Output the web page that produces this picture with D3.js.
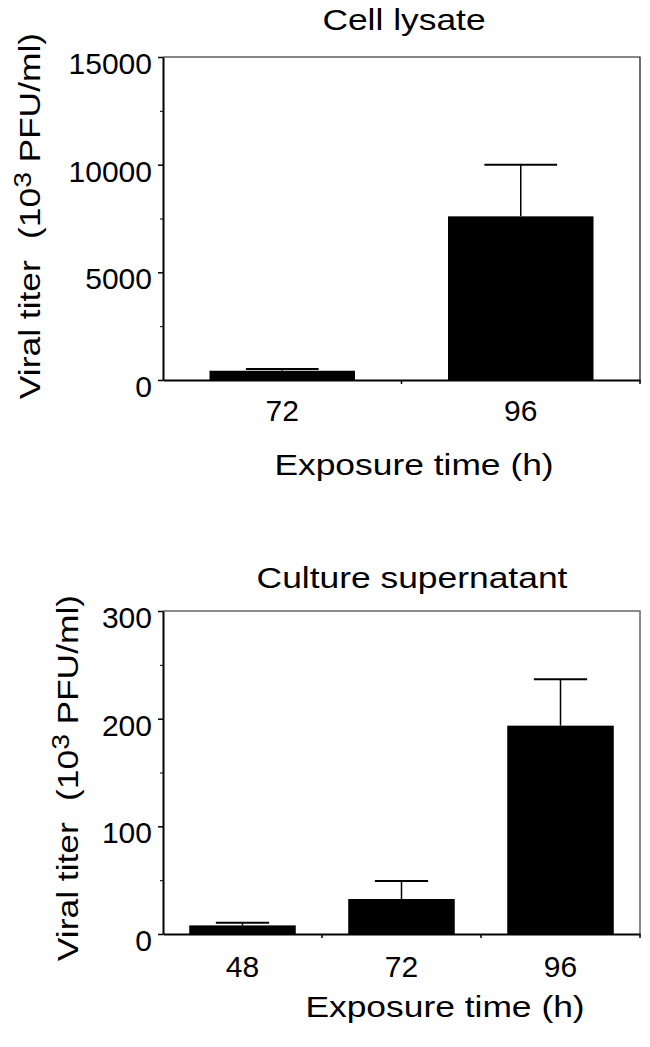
<!DOCTYPE html>
<html>

<head>
    <meta charset="utf-8">
    <title>Viral titer</title>
    <script type="text/javascript" src="https://cdn.jsdelivr.net/npm/d3@7"></script>
    <style type="text/css">
        body {
            margin: 0;
            background: #fff;
        }

        svg text {
            font-family: "Liberation Sans", Arial, Helvetica, sans-serif;
            fill: #000;
        }

        .axis text {
            font-size: 30px;
        }

        .axis path,
        .axis line {
            stroke: #000;
        }

        .label {
            font-size: 30px;
        }
    </style>
</head>

<body>

    <script type="text/javascript">
        // Cell lysate panel
        var lysateTimes = ["72", "96"];
        var lysateMeans = [430, 7600];
        var lysateErrors = [80, 2400];
        var lysateTicks = [0, 5000, 10000, 15000];
        var lysateMinor = [2500, 7500, 12500];

        // Culture supernatant panel
        var superTimes = ["48", "72", "96"];
        var superMeans = [8, 32.5, 193.5];
        var superErrors = [2.5, 16.7, 43];
        var superTicks = [0, 100, 200, 300];
        var superMinor = [50, 150, 250];

        var _width = 650,
            _height = 1047,
            _stretch = 1.18; // words in the figure are drawn wide

        var svg = d3.select("body").append("svg")
            .attr("width", _width)
            .attr("height", _height);

        function panel(opt) {
            var x = d3.scaleBand()
                .domain(opt.times)
                .range([opt.left, opt.right])
                .paddingInner(opt.pad)
                .paddingOuter(opt.pad / 2);

            var y = d3.scaleLinear()
                .domain([0, opt.ticks[opt.ticks.length - 1]])
                .range([opt.bottom, opt.top]);

            var g = svg.append("g");

            // frame (top & right, thin)
            g.append("path")
                .attr("d", "M" + opt.left + "," + opt.top + "H" + opt.right + "V" + opt.bottom)
                .attr("fill", "none")
                .attr("stroke", opt.frameColor)
                .attr("stroke-width", opt.frameWidth);

            var rows = opt.times.map(function (t, i) {
                return { t: t, v: opt.means[i], e: opt.errors[i] };
            });

            // error bars (drawn first, bar covers the lower part)
            var err = g.selectAll("g.err").data(rows).enter().append("g")
                .attr("class", "err")
                .attr("stroke", "#000");
            err.append("line")
                .attr("x1", function (d) { return x(d.t) + x.bandwidth() / 2; })
                .attr("x2", function (d) { return x(d.t) + x.bandwidth() / 2; })
                .attr("y1", function (d) { return y(d.v); })
                .attr("y2", function (d) { return y(d.v + d.e); })
                .attr("stroke-width", 1.5);
            err.append("line")
                .attr("x1", function (d) { return x(d.t) + x.bandwidth() / 4; })
                .attr("x2", function (d) { return x(d.t) + x.bandwidth() * 3 / 4; })
                .attr("y1", function (d) { return y(d.v + d.e); })
                .attr("y2", function (d) { return y(d.v + d.e); })
                .attr("stroke-width", 2);

            g.selectAll("rect.bar").data(rows).enter().append("rect")
                .attr("class", "bar")
                .attr("x", function (d) { return x(d.t); })
                .attr("width", x.bandwidth())
                .attr("y", function (d) { return y(d.v); })
                .attr("height", function (d) { return y(0) - y(d.v); })
                .attr("fill", "#000");

            // minor ticks
            g.append("g")
                .attr("class", "axis")
                .attr("transform", "translate(" + opt.left + ",0)")
                .call(d3.axisLeft(y).tickValues(opt.minor).tickSize(3).tickSizeOuter(0).tickFormat(""))
                .call(function (a) { a.select(".domain").remove(); });

            // y axis
            var yAxis = g.append("g")
                .attr("class", "axis")
                .attr("transform", "translate(" + opt.left + ",0)")
                .call(d3.axisLeft(y).tickValues(opt.ticks).tickSize(5).tickSizeOuter(0)
                    .tickPadding(6).tickFormat(d3.format("d")));
            yAxis.select(".domain").attr("stroke-width", 2);
            yAxis.selectAll(".tick line").attr("stroke-width", 1.5);
            yAxis.selectAll(".tick text").attr("dy", "0.55em");

            // x axis
            var xAxis = g.append("g")
                .attr("class", "axis")
                .attr("transform", "translate(0," + opt.bottom + ")")
                .call(d3.axisBottom(x).tickSize(0).tickSizeOuter(0).tickPadding(10));
            xAxis.select(".domain").attr("stroke-width", 2);
            xAxis.selectAll(".tick text").attr("dy", "0").attr("y", opt.xLabelDy);

            // x ticks on the band edges
            xAxis.selectAll("line.edge").data(opt.times).enter().append("line")
                .attr("class", "edge")
                .attr("x1", function (d) { return x(d) + x.bandwidth() / 2 + x.step() / 2; })
                .attr("x2", function (d) { return x(d) + x.bandwidth() / 2 + x.step() / 2; })
                .attr("y1", 0)
                .attr("y2", 4)
                .attr("stroke", "#000")
                .attr("stroke-width", 1.5);

            // title
            g.append("text")
                .attr("class", "label")
                .attr("text-anchor", "middle")
                .attr("transform", "translate(" + opt.titleX + "," + opt.titleY + ") scale(" + _stretch + ",1)")
                .text(opt.title);

            // x label
            g.append("text")
                .attr("class", "label")
                .attr("text-anchor", "middle")
                .attr("transform", "translate(" + opt.xTitleX + "," + opt.xTitleY + ") scale(" + _stretch + ",1)")
                .text("Exposure time (h)");

            // y label
            var yl = g.append("text")
                .attr("class", "label")
                .attr("text-anchor", "middle")
                .attr("transform", "translate(" + opt.yTitleX + "," + opt.yTitleY + ") rotate(-90) scale(" + _stretch + ",1)");
            yl.append("tspan").text("Viral titer");
            yl.append("tspan").attr("dx", 18).text("(10");
            yl.append("tspan").attr("dy", -9).style("font-size", "24px").text("3");
            yl.append("tspan").attr("dy", 9).attr("dx", 8).text("PFU/ml)");
        }

        panel({
            times: lysateTimes, means: lysateMeans, errors: lysateErrors,
            ticks: lysateTicks, minor: lysateMinor,
            left: 163, right: 640, top: 57, bottom: 380, pad: 0.39,
            frameColor: "#111", frameWidth: 1.2,
            title: "Cell lysate", titleX: 404, titleY: 30,
            xTitleX: 414, xTitleY: 475, xLabelDy: 41,
            yTitleX: 40, yTitleY: 216
        });

        panel({
            times: superTimes, means: superMeans, errors: superErrors,
            ticks: superTicks, minor: superMinor,
            left: 163, right: 640, top: 611, bottom: 934, pad: 0.33,
            frameColor: "#666", frameWidth: 1.5,
            title: "Culture supernatant", titleX: 412, titleY: 588,
            xTitleX: 445, xTitleY: 1017, xLabelDy: 43,
            yTitleX: 78, yTitleY: 778
        });
    </script>

</body>

</html>
